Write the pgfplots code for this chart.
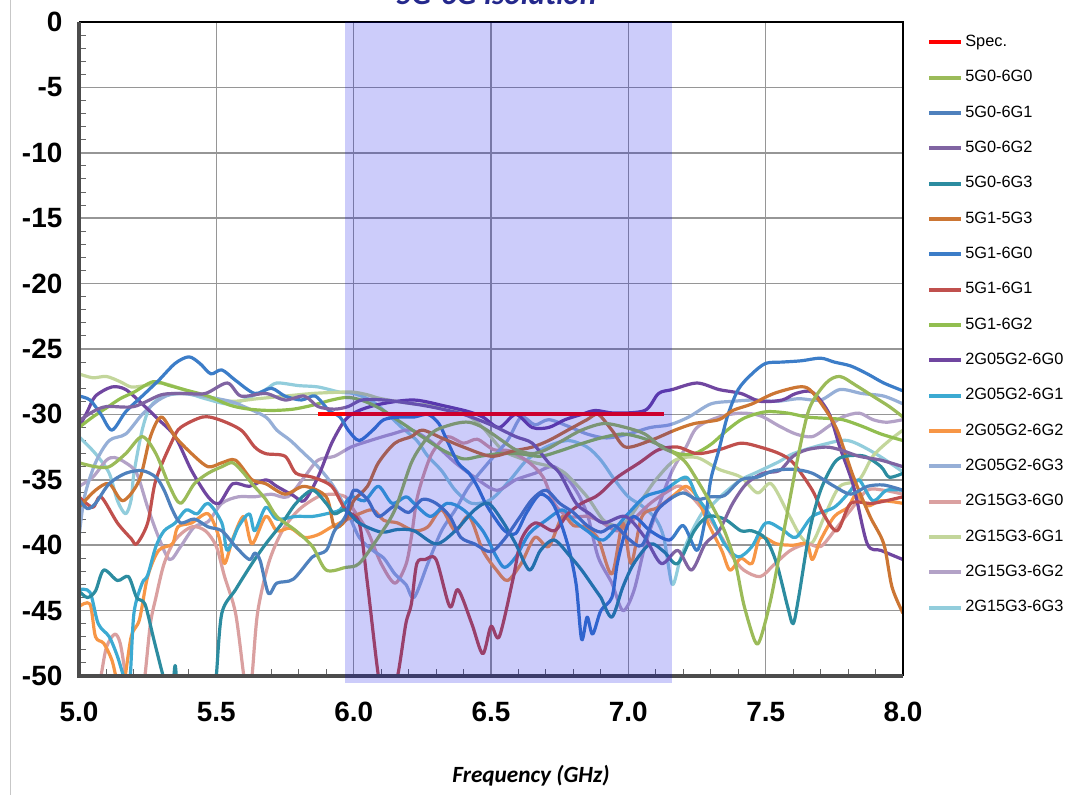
\documentclass[border=0pt]{standalone}
\usepackage{pgfplots}
\pgfplotsset{compat=1.18}
\usepackage{fontspec}
\setmainfont{Liberation Sans}
\newfontfamily\carlito{Carlito}
\definecolor{cA}{RGB}{155,187,89}
\definecolor{cB}{RGB}{79,129,189}
\definecolor{cC}{RGB}{128,100,162}
\definecolor{cD}{RGB}{44,140,160}
\definecolor{cE}{RGB}{204,118,52}
\definecolor{cF}{RGB}{60,125,200}
\definecolor{cG}{RGB}{192,80,77}
\definecolor{cH}{RGB}{146,190,80}
\definecolor{cI}{RGB}{112,70,160}
\definecolor{cJ}{RGB}{60,170,210}
\definecolor{cK}{RGB}{247,150,70}
\definecolor{cL}{RGB}{150,175,215}
\definecolor{cM}{RGB}{218,160,160}
\definecolor{cN}{RGB}{195,214,155}
\definecolor{cO}{RGB}{179,162,199}
\definecolor{cP}{RGB}{146,205,220}
\definecolor{titleblue}{RGB}{36,40,140}
\definecolor{gridgray}{RGB}{150,150,150}
\definecolor{bandblue}{RGB}{0,0,230}
\begin{document}
\begin{tikzpicture}
\begin{axis}[
  at={(59.25bp,89.25bp)}, anchor=south west,
  scale only axis, width=618bp, height=490.5bp,
  xmin=5, xmax=8, ymin=-50, ymax=0,
  clip mode=individual,
  xtick={5,5.5,6,6.5,7,7.5,8},
  xticklabels={5.0,5.5,6.0,6.5,7.0,7.5,8.0},
  ytick={-50,-45,-40,-35,-30,-25,-20,-15,-10,-5,0},
  yticklabels={-50,-45,-40,-35,-30,-25,-20,-15,-10,-5,0},
  minor x tick num=4, minor y tick num=4,
  xtick pos=left, ytick pos=left,
  grid=major, major grid style={color=gridgray, line width=1.1bp},
  tick align=inside, major tick length=0pt, minor tick length=5bp,
  minor tick style={color=black!60, line width=0.8bp},
  axis line style={draw=none},
  xticklabel style={font=\bfseries\fontsize{21}{22}\selectfont, yshift=-16bp},
  yticklabel style={font=\bfseries\fontsize{21}{22}\selectfont, xshift=-9bp},
  xlabel={Frequency (GHz)},
  xlabel style={font=\carlito\bfseries\itshape\fontsize{17.5}{20}\selectfont, at={(axis description cs:0.5485,-0.153)}, anchor=center},
  every axis plot/.append style={line width=2.4bp, smooth, tension=0.5, line join=round},
  legend cell align=left,
  legend style={at={(1,1)}, anchor=north west, xshift=18bp, yshift=-9.2bp,
    draw=none, fill=none, inner sep=0pt, row sep=15bp, column sep=1.5bp,
    font=\fontsize{12.3}{14}\selectfont,
    nodes={inner sep=0pt, text height=9bp, text depth=2.5bp}},
  legend image code/.code={\draw[#1, line width=3bp] (0bp,0bp) -- (24bp,0bp);},
]
\addlegendimage{red}\addlegendentry{Spec.}
\addlegendimage{cA}\addlegendentry{5G0-6G0}
\addlegendimage{cB}\addlegendentry{5G0-6G1}
\addlegendimage{cC}\addlegendentry{5G0-6G2}
\addlegendimage{cD}\addlegendentry{5G0-6G3}
\addlegendimage{cE}\addlegendentry{5G1-5G3}
\addlegendimage{cF}\addlegendentry{5G1-6G0}
\addlegendimage{cG}\addlegendentry{5G1-6G1}
\addlegendimage{cH}\addlegendentry{5G1-6G2}
\addlegendimage{cI}\addlegendentry{2G05G2-6G0}
\addlegendimage{cJ}\addlegendentry{2G05G2-6G1}
\addlegendimage{cK}\addlegendentry{2G05G2-6G2}
\addlegendimage{cL}\addlegendentry{2G05G2-6G3}
\addlegendimage{cM}\addlegendentry{2G15G3-6G0}
\addlegendimage{cN}\addlegendentry{2G15G3-6G1}
\addlegendimage{cO}\addlegendentry{2G15G3-6G2}
\addlegendimage{cP}\addlegendentry{2G15G3-6G3}

% 2G15G3-6G3
\addplot[cP, forget plot] coordinates {(5.00,-31.7)(5.06,-33.0)(5.11,-34.5)(5.14,-36.6)(5.17,-37.6)(5.19,-36.5)(5.20,-34.5)(5.23,-31.2)(5.26,-29.4)(5.31,-28.6)(5.39,-28.4)(5.46,-28.8)(5.54,-29.2)(5.60,-28.9)(5.68,-28.1)(5.72,-27.6)(5.80,-27.8)(5.87,-27.9)(5.95,-28.3)(6.00,-28.4)(6.06,-28.9)(6.11,-29.7)(6.17,-30.9)(6.23,-32.0)(6.27,-33.2)(6.32,-34.3)(6.37,-35.8)(6.43,-36.8)(6.50,-36.5)(6.57,-35.0)(6.63,-33.5)(6.70,-32.5)(6.78,-32.0)(6.85,-32.5)(6.90,-33.5)(6.95,-35.0)(7.00,-36.3)(7.05,-37.0)(7.10,-38.0)(7.13,-39.5)(7.16,-43.0)(7.19,-41.0)(7.23,-39.0)(7.27,-37.5)(7.30,-37.0)(7.35,-36.0)(7.41,-35.0)(7.47,-34.4)(7.55,-33.6)(7.60,-33.0)(7.71,-32.3)(7.80,-32.0)(7.90,-33.0)(8.00,-34.4)};
% 2G15G3-6G2
\addplot[cO, forget plot] coordinates {(5.00,-35.5)(5.05,-34.8)(5.10,-33.5)(5.13,-33.3)(5.17,-33.7)(5.21,-34.5)(5.25,-37.1)(5.29,-39.4)(5.33,-41.1)(5.37,-40.1)(5.42,-38.6)(5.47,-38.2)(5.52,-36.8)(5.58,-36.3)(5.64,-36.3)(5.70,-36.1)(5.76,-36.3)(5.82,-34.8)(5.87,-33.5)(5.93,-33.2)(5.99,-32.5)(6.06,-32.0)(6.14,-31.5)(6.21,-31.2)(6.29,-32.2)(6.37,-33.7)(6.44,-34.8)(6.52,-35.8)(6.59,-35.0)(6.66,-34.5)(6.73,-34.0)(6.80,-35.5)(6.85,-37.6)(6.89,-40.9)(6.94,-42.9)(6.98,-45.0)(7.02,-43.5)(7.06,-40.1)(7.11,-37.0)(7.16,-34.3)(7.21,-32.5)(7.25,-31.0)(7.33,-30.2)(7.41,-29.9)(7.48,-30.1)(7.55,-30.9)(7.61,-31.5)(7.67,-31.7)(7.73,-30.9)(7.78,-30.2)(7.84,-29.9)(7.89,-30.4)(7.94,-30.6)(8.00,-30.4)};
% 2G15G3-6G1
\addplot[cN, forget plot] coordinates {(5.00,-26.9)(5.05,-27.2)(5.10,-27.1)(5.15,-27.5)(5.19,-27.9)(5.24,-27.8)(5.30,-27.6)(5.38,-28.1)(5.45,-28.6)(5.55,-29.0)(5.65,-28.8)(5.75,-28.6)(5.85,-28.4)(5.95,-28.3)(6.00,-28.3)(6.05,-28.5)(6.10,-28.8)(6.22,-29.2)(6.34,-29.4)(6.41,-30.0)(6.47,-31.0)(6.54,-32.7)(6.60,-33.3)(6.66,-33.7)(6.72,-34.0)(6.77,-34.5)(6.85,-36.3)(6.91,-38.1)(6.96,-38.5)(7.00,-38.0)(7.05,-36.5)(7.10,-35.0)(7.17,-33.5)(7.25,-33.3)(7.33,-34.2)(7.41,-34.8)(7.47,-36.0)(7.52,-35.3)(7.58,-37.5)(7.63,-39.4)(7.67,-39.8)(7.72,-37.5)(7.77,-35.5)(7.84,-35.0)(7.89,-33.2)(7.95,-32.0)(8.00,-31.2)};
% 2G15G3-6G0
\addplot[cM, forget plot] coordinates {(5.00,-56)(5.06,-52)(5.08,-50)(5.10,-47.8)(5.13,-46.8)(5.15,-47.5)(5.17,-50)(5.20,-54)(5.22,-53)(5.24,-50)(5.26,-46)(5.28,-44)(5.31,-41.4)(5.35,-39.6)(5.41,-38.6)(5.46,-38.9)(5.50,-40.1)(5.53,-42.4)(5.57,-45.2)(5.60,-50)(5.615,-52)(5.63,-50)(5.65,-45.2)(5.69,-41.4)(5.74,-38.9)(5.80,-37.3)(5.87,-36.3)(5.92,-36.1)(5.97,-36.3)(6.00,-37.3)(6.05,-38.9)(6.10,-41.4)(6.15,-42.9)(6.19,-41.5)(6.21,-39.4)(6.23,-36.5)(6.26,-34.3)(6.29,-32.8)(6.34,-31.7)(6.40,-32.2)(6.45,-31.9)(6.51,-32.7)(6.57,-32.8)(6.64,-33.7)(6.69,-34.8)(6.73,-36.8)(6.78,-37.8)(6.85,-37.8)(6.90,-38.2)(6.96,-38.9)(7.02,-38.0)(7.08,-36.8)(7.15,-35.8)(7.19,-35.5)(7.24,-36.5)(7.29,-37.8)(7.34,-39.4)(7.38,-40.9)(7.42,-41.9)(7.48,-42.4)(7.53,-41.5)(7.59,-40.4)(7.65,-39.9)(7.70,-40.1)(7.75,-38.9)(7.81,-37.3)(7.87,-35.8)(7.93,-35.8)(8.00,-36.1)};
% 2G05G2-6G3
\addplot[cL, forget plot] coordinates {(5.00,-39.4)(5.02,-36.3)(5.06,-33.7)(5.11,-32.0)(5.17,-31.5)(5.23,-30.0)(5.29,-28.9)(5.35,-28.4)(5.45,-28.6)(5.55,-29.0)(5.60,-29.4)(5.68,-30.2)(5.72,-31.2)(5.77,-32.0)(5.82,-33.0)(5.87,-34.0)(5.92,-35.3)(5.97,-37.1)(6.02,-39.4)(6.07,-40.4)(6.11,-41.0)(6.15,-42.2)(6.19,-43.0)(6.22,-44.0)(6.27,-41.4)(6.32,-38.9)(6.37,-37.3)(6.42,-35.5)(6.49,-33.7)(6.56,-32.0)(6.61,-30.2)(6.66,-30.8)(6.71,-30.4)(6.78,-30.9)(6.85,-31.5)(6.92,-31.8)(7.00,-31.5)(7.08,-31.0)(7.15,-30.8)(7.22,-30.2)(7.30,-29.2)(7.38,-29.0)(7.46,-28.9)(7.54,-29.0)(7.62,-28.8)(7.70,-28.9)(7.77,-28.1)(7.85,-28.4)(7.93,-28.6)(8.00,-29.2)};
% 2G05G2-6G2
\addplot[cK, forget plot] coordinates {(5.00,-44.7)(5.04,-44.5)(5.06,-47.0)(5.09,-47.5)(5.12,-48.8)(5.14,-50.5)(5.16,-51.0)(5.19,-47.0)(5.22,-45.7)(5.25,-42.4)(5.29,-40.4)(5.34,-39.9)(5.36,-38.6)(5.41,-38.3)(5.47,-37.6)(5.51,-39.4)(5.53,-41.4)(5.56,-39.5)(5.60,-37.8)(5.63,-39.9)(5.68,-37.8)(5.72,-38.9)(5.77,-38.7)(5.82,-39.4)(5.87,-39.2)(5.92,-38.6)(5.97,-38.1)(6.02,-37.6)(6.07,-37.3)(6.11,-38.1)(6.16,-38.3)(6.22,-38.9)(6.27,-38.6)(6.32,-37.3)(6.37,-38.9)(6.42,-37.8)(6.47,-40.4)(6.52,-41.9)(6.56,-42.7)(6.61,-41.4)(6.66,-39.4)(6.71,-40.1)(6.76,-37.8)(6.80,-38.5)(6.84,-38.6)(6.89,-39.5)(6.94,-42.2)(6.98,-38.3)(7.01,-41.4)(7.05,-37.8)(7.11,-37.1)(7.17,-36.1)(7.21,-35.5)(7.25,-36.3)(7.29,-38.3)(7.34,-40.4)(7.37,-41.9)(7.41,-41.0)(7.45,-41.4)(7.48,-39.4)(7.54,-39.9)(7.60,-40.0)(7.65,-39.9)(7.67,-41.1)(7.70,-39.6)(7.75,-37.8)(7.80,-37.1)(7.83,-36.1)(7.87,-37.0)(7.92,-36.6)(8.00,-36.8)};
% 2G05G2-6G1
\addplot[cJ, forget plot] coordinates {(5.00,-43.4)(5.04,-43.6)(5.07,-46.0)(5.11,-47.0)(5.14,-48.5)(5.17,-50.5)(5.185,-50.5)(5.20,-45.2)(5.23,-42.9)(5.25,-42.3)(5.28,-40.1)(5.31,-38.9)(5.35,-38.3)(5.39,-37.3)(5.43,-37.6)(5.47,-36.8)(5.52,-38.3)(5.54,-40.4)(5.58,-38.6)(5.62,-37.6)(5.64,-38.9)(5.68,-37.1)(5.72,-38.0)(5.79,-37.8)(5.85,-37.8)(5.90,-37.6)(5.95,-37.3)(5.99,-36.3)(6.04,-36.6)(6.09,-35.5)(6.14,-36.8)(6.19,-36.3)(6.22,-36.8)(6.28,-37.8)(6.34,-36.8)(6.40,-37.3)(6.47,-38.9)(6.52,-40.9)(6.55,-41.7)(6.59,-40.9)(6.64,-39.1)(6.70,-38.1)(6.76,-37.3)(6.80,-38.1)(6.85,-38.9)(6.91,-39.6)(6.99,-37.8)(7.06,-36.3)(7.13,-35.8)(7.21,-34.8)(7.25,-36.3)(7.30,-37.8)(7.35,-39.9)(7.40,-40.9)(7.45,-40.1)(7.50,-38.3)(7.56,-38.8)(7.61,-39.4)(7.67,-37.8)(7.75,-37.1)(7.81,-35.8)(7.84,-35.0)(7.89,-36.6)(7.94,-35.8)(8.00,-35.8)};
% 2G05G2-6G0
\addplot[cI, forget plot] coordinates {(5.00,-31.0)(5.03,-29.8)(5.06,-28.6)(5.12,-27.9)(5.17,-28.1)(5.23,-29.2)(5.29,-30.4)(5.35,-31.7)(5.41,-34.3)(5.47,-36.3)(5.51,-36.8)(5.56,-35.3)(5.62,-35.5)(5.68,-35.0)(5.72,-35.5)(5.78,-36.2)(5.82,-36.6)(5.87,-34.8)(5.92,-32.2)(5.97,-30.4)(6.02,-29.7)(6.10,-29.2)(6.22,-28.9)(6.34,-29.4)(6.42,-29.8)(6.47,-30.2)(6.53,-31.0)(6.59,-30.0)(6.65,-31.0)(6.71,-31.0)(6.77,-30.4)(6.83,-30.0)(6.88,-29.7)(6.95,-29.9)(7.06,-29.7)(7.11,-28.4)(7.16,-28.1)(7.25,-27.6)(7.33,-28.1)(7.41,-28.4)(7.48,-29.0)(7.56,-28.9)(7.61,-28.4)(7.67,-28.3)(7.73,-29.9)(7.77,-32.5)(7.82,-35.5)(7.87,-39.9)(7.92,-40.4)(8.00,-41.1)};
% 5G1-6G2
\addplot[cH, forget plot] coordinates {(5.00,-31.0)(5.05,-30.2)(5.10,-29.5)(5.15,-28.8)(5.20,-28.3)(5.27,-27.5)(5.33,-27.8)(5.40,-28.2)(5.47,-28.6)(5.55,-29.3)(5.62,-29.6)(5.70,-29.7)(5.78,-29.6)(5.85,-29.3)(5.92,-28.9)(5.98,-28.7)(6.04,-29.0)(6.10,-29.6)(6.15,-30.3)(6.20,-31.0)(6.27,-32.0)(6.33,-32.8)(6.40,-33.4)(6.46,-33.2)(6.53,-33.0)(6.60,-33.0)(6.68,-33.2)(6.75,-32.8)(6.82,-32.3)(6.90,-31.8)(6.98,-31.5)(7.05,-31.8)(7.12,-32.4)(7.18,-33.0)(7.24,-33.0)(7.30,-32.3)(7.36,-31.2)(7.42,-30.3)(7.50,-29.8)(7.58,-29.9)(7.65,-30.2)(7.72,-30.3)(7.78,-30.4)(7.85,-30.9)(7.92,-31.5)(8.00,-32.0)};
% 5G1-6G1
\addplot[cG, forget plot] coordinates {(5.00,-36.3)(5.05,-37.1)(5.08,-36.3)(5.14,-38.3)(5.19,-39.5)(5.21,-39.9)(5.25,-38.3)(5.28,-35.0)(5.34,-32.0)(5.37,-31.0)(5.45,-30.2)(5.51,-30.4)(5.59,-31.2)(5.64,-32.5)(5.68,-33.0)(5.75,-33.2)(5.79,-34.5)(5.85,-34.8)(5.92,-35.5)(5.97,-37.3)(6.02,-38.3)(6.05,-42.9)(6.09,-50.0)(6.12,-53.0)(6.16,-50.0)(6.19,-46.0)(6.21,-44.5)(6.23,-41.4)(6.26,-41.1)(6.30,-41.1)(6.35,-44.7)(6.38,-43.4)(6.43,-46.0)(6.47,-48.3)(6.50,-46.2)(6.53,-47.0)(6.58,-42.6)(6.61,-39.6)(6.66,-38.3)(6.73,-38.9)(6.78,-37.6)(6.83,-36.8)(6.88,-36.3)(6.91,-35.8)(6.96,-34.8)(7.04,-33.7)(7.11,-32.7)(7.18,-32.5)(7.25,-33.0)(7.33,-32.7)(7.41,-32.2)(7.48,-32.5)(7.55,-33.0)(7.60,-33.7)(7.67,-35.8)(7.71,-37.6)(7.76,-38.9)(7.81,-36.8)(7.89,-36.8)(8.00,-36.3)};
% 5G1-6G0
\addplot[cF, forget plot] coordinates {(5.00,-28.6)(5.04,-28.9)(5.08,-30.0)(5.12,-31.2)(5.17,-29.8)(5.23,-28.6)(5.29,-27.4)(5.35,-26.1)(5.40,-25.6)(5.44,-26.1)(5.48,-26.9)(5.52,-26.6)(5.57,-27.4)(5.64,-28.4)(5.70,-28.0)(5.75,-28.6)(5.81,-28.9)(5.86,-28.6)(5.91,-29.7)(5.95,-30.2)(5.98,-31.2)(6.02,-32.0)(6.07,-31.2)(6.11,-30.4)(6.17,-30.2)(6.22,-30.2)(6.27,-30.0)(6.31,-30.7)(6.34,-32.0)(6.38,-33.7)(6.42,-34.5)(6.45,-35.5)(6.48,-36.8)(6.51,-37.8)(6.55,-38.9)(6.59,-39.1)(6.63,-37.5)(6.68,-36.1)(6.73,-37.0)(6.78,-40.0)(6.81,-43.0)(6.83,-47.2)(6.85,-45.5)(6.87,-46.8)(6.90,-45.0)(6.94,-44.0)(6.96,-41.4)(6.99,-38.9)(7.02,-37.8)(7.08,-38.9)(7.15,-39.6)(7.20,-38.5)(7.25,-40.4)(7.28,-38.0)(7.30,-35.0)(7.33,-32.7)(7.36,-30.2)(7.40,-28.1)(7.45,-26.9)(7.50,-26.1)(7.56,-26.0)(7.63,-25.9)(7.70,-25.7)(7.75,-26.0)(7.81,-26.3)(7.87,-26.9)(7.93,-27.6)(8.00,-28.2)};
% 5G1-5G3
\addplot[cE, forget plot] coordinates {(5.00,-37.1)(5.06,-35.8)(5.11,-35.3)(5.16,-36.6)(5.22,-35.0)(5.26,-31.7)(5.30,-30.2)(5.35,-31.7)(5.41,-33.0)(5.47,-34.0)(5.52,-33.7)(5.57,-33.5)(5.63,-35.0)(5.68,-35.3)(5.75,-36.1)(5.82,-35.5)(5.90,-36.3)(5.93,-38.6)(5.97,-38.1)(6.00,-36.6)(6.05,-35.5)(6.09,-33.7)(6.15,-32.2)(6.21,-31.7)(6.25,-31.2)(6.32,-31.8)(6.40,-32.5)(6.50,-33.2)(6.58,-32.8)(6.65,-32.5)(6.71,-32.0)(6.78,-31.2)(6.85,-30.4)(6.89,-30.0)(6.94,-31.2)(6.99,-32.5)(7.08,-32.0)(7.17,-31.2)(7.24,-30.7)(7.33,-30.4)(7.38,-29.7)(7.45,-29.2)(7.53,-28.4)(7.62,-27.9)(7.66,-28.1)(7.71,-29.4)(7.76,-31.2)(7.82,-34.8)(7.88,-37.8)(7.93,-39.9)(7.96,-43.2)(8.00,-45.2)};
% 5G0-6G3
\addplot[cD, forget plot] coordinates {(5.00,-43.5)(5.03,-44.0)(5.06,-43.5)(5.09,-41.9)(5.14,-42.7)(5.18,-42.4)(5.21,-44.0)(5.24,-44.5)(5.27,-47.0)(5.30,-49.5)(5.32,-51.0)(5.34,-51.0)(5.35,-49.2)(5.36,-51.0)(5.40,-55.0)(5.45,-56.0)(5.49,-52.0)(5.50,-50.0)(5.52,-45.2)(5.57,-43.4)(5.63,-41.4)(5.68,-39.9)(5.74,-38.3)(5.79,-36.8)(5.85,-35.8)(5.90,-36.8)(5.93,-37.6)(5.97,-37.3)(6.02,-38.3)(6.10,-39.0)(6.16,-38.8)(6.22,-38.9)(6.30,-39.9)(6.37,-38.9)(6.44,-37.3)(6.49,-36.8)(6.54,-38.1)(6.59,-39.9)(6.64,-41.9)(6.68,-40.4)(6.73,-39.6)(6.79,-40.9)(6.83,-41.9)(6.88,-43.4)(6.90,-44.0)(6.94,-45.5)(6.98,-43.2)(7.02,-41.4)(7.08,-39.9)(7.13,-40.5)(7.18,-41.4)(7.24,-38.9)(7.29,-37.8)(7.35,-38.0)(7.41,-38.9)(7.45,-38.9)(7.50,-39.5)(7.54,-41.4)(7.58,-44.7)(7.60,-46.0)(7.62,-44.0)(7.66,-38.9)(7.70,-35.8)(7.75,-33.7)(7.79,-33.2)(7.86,-33.2)(7.92,-34.0)(7.95,-34.8)(8.00,-34.5)};
% 5G0-6G2
\addplot[cC, forget plot] coordinates {(5.00,-30.5)(5.05,-29.8)(5.10,-29.4)(5.20,-29.4)(5.30,-28.5)(5.38,-28.4)(5.46,-28.4)(5.54,-27.6)(5.59,-28.6)(5.68,-28.4)(5.75,-28.9)(5.82,-28.6)(5.87,-29.4)(5.93,-29.6)(5.98,-29.4)(6.03,-28.9)(6.11,-28.9)(6.22,-29.2)(6.30,-29.5)(6.40,-30.0)(6.50,-30.8)(6.59,-31.7)(6.65,-32.2)(6.71,-33.7)(6.75,-34.5)(6.81,-36.8)(6.86,-37.6)(6.91,-38.3)(6.99,-37.8)(7.06,-39.4)(7.12,-41.4)(7.18,-40.4)(7.23,-41.9)(7.28,-39.9)(7.33,-38.9)(7.38,-36.8)(7.43,-35.3)(7.49,-34.5)(7.55,-34.3)(7.60,-33.2)(7.65,-32.7)(7.72,-32.5)(7.77,-32.7)(7.84,-33.2)(7.92,-33.5)(8.00,-34.0)};
% 5G0-6G1
\addplot[cB, forget plot] coordinates {(5.00,-36.5)(5.03,-37.2)(5.06,-36.8)(5.11,-35.3)(5.17,-34.5)(5.23,-34.3)(5.28,-34.8)(5.31,-35.8)(5.34,-37.3)(5.37,-38.3)(5.42,-38.0)(5.47,-38.6)(5.52,-38.9)(5.57,-40.1)(5.62,-41.1)(5.64,-40.6)(5.66,-41.2)(5.69,-43.7)(5.72,-42.9)(5.78,-42.6)(5.85,-40.9)(5.90,-40.4)(5.93,-38.9)(5.97,-37.8)(6.00,-35.8)(6.05,-36.5)(6.09,-37.8)(6.15,-37.0)(6.20,-37.5)(6.25,-36.5)(6.30,-36.8)(6.35,-37.8)(6.39,-39.4)(6.44,-39.9)(6.50,-40.5)(6.55,-39.5)(6.60,-38.0)(6.65,-36.5)(6.70,-35.8)(6.75,-36.8)(6.80,-37.5)(6.85,-38.5)(6.90,-39.0)(6.95,-38.5)(7.00,-39.5)(7.05,-40.0)(7.10,-37.5)(7.15,-36.5)(7.20,-36.0)(7.25,-36.5)(7.30,-36.3)(7.35,-36.2)(7.41,-35.0)(7.47,-34.8)(7.53,-34.3)(7.60,-34.2)(7.67,-34.5)(7.75,-35.5)(7.81,-36.1)(7.87,-35.5)(7.93,-35.4)(8.00,-35.8)};
% 5G0-6G0
\addplot[cA, forget plot] coordinates {(5.00,-33.7)(5.06,-34.0)(5.11,-34.0)(5.17,-33.0)(5.23,-31.7)(5.28,-33.0)(5.33,-35.5)(5.37,-36.8)(5.42,-35.3)(5.47,-34.5)(5.52,-34.0)(5.56,-33.7)(5.60,-34.5)(5.63,-35.3)(5.68,-36.5)(5.72,-37.8)(5.79,-38.9)(5.85,-40.1)(5.90,-41.9)(5.97,-41.7)(6.02,-41.4)(6.09,-39.4)(6.15,-37.3)(6.21,-33.7)(6.26,-32.0)(6.30,-31.2)(6.37,-30.7)(6.42,-30.6)(6.47,-31.0)(6.54,-32.0)(6.59,-32.7)(6.65,-33.0)(6.70,-32.7)(6.76,-32.0)(6.83,-31.2)(6.91,-30.7)(6.99,-31.0)(7.06,-31.5)(7.12,-32.5)(7.17,-33.0)(7.21,-33.7)(7.25,-35.0)(7.30,-36.8)(7.35,-38.9)(7.39,-41.4)(7.42,-44.5)(7.46,-47.3)(7.48,-47.2)(7.52,-44.0)(7.57,-38.5)(7.62,-33.0)(7.66,-29.5)(7.72,-27.6)(7.77,-27.1)(7.83,-27.8)(7.89,-28.6)(7.95,-29.4)(8.00,-30.2)};
% Spec
\addplot[red, line width=3bp, forget plot] coordinates {(5.87,-30)(7.13,-30)};

\coordinate (SW) at (rel axis cs:0,0);
\coordinate (NE) at (rel axis cs:1,1);
\coordinate (FA) at (axis cs:5.968,-50.55);
\coordinate (FB) at (axis cs:7.159,0);
\end{axis}
% axis frame
\draw[black, line width=2.2bp] (SW -| NE) -- (NE) -- (NE -| SW);
\draw[black!70, line width=3bp] (NE -| SW) -- (SW) -- (SW -| NE);
% band
\fill[bandblue, opacity=0.2] (FA) rectangle (FB);
% title
\node[anchor=base, font=\carlito\bfseries\itshape\fontsize{23.5}{26}\selectfont, text=titleblue] at (372bp,592.5bp) {5G-6G Isolation};
\draw[black!22, line width=0.75bp] (7.5bp,0) -- (7.5bp,596.25bp);
\pgfresetboundingbox
\useasboundingbox (0,0) rectangle (801bp,596.25bp);
\end{tikzpicture}
\end{document}
